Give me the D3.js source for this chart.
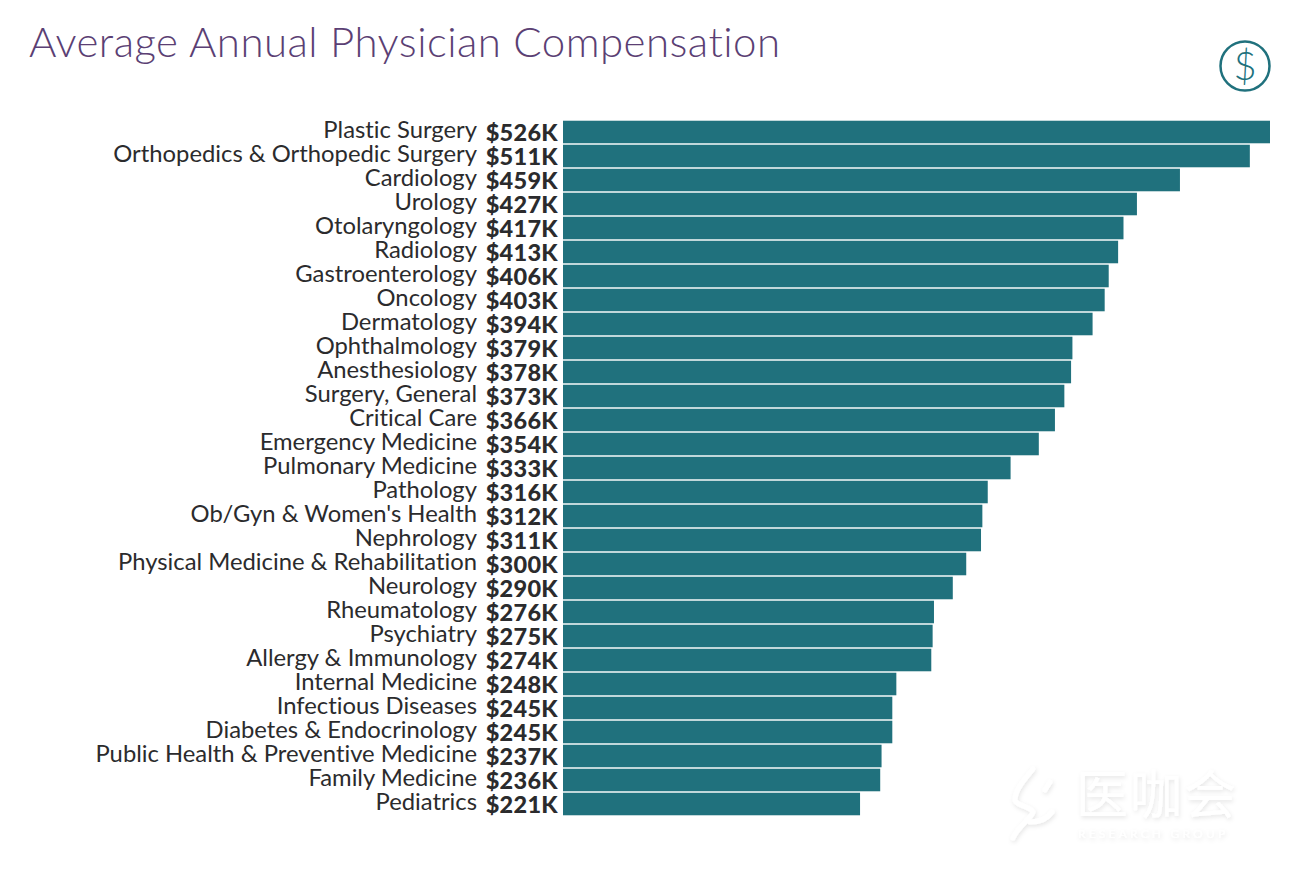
<!DOCTYPE html>
<html>
<head>
<meta charset="utf-8">
<script src="https://cdn.jsdelivr.net/npm/d3@7"></script>
<style>
  body { margin: 0; background: #fff; }
  text { font-family: Lato, "Open Sans", sans-serif; font-variant-ligatures: none; }
</style>
</head>
<body>
<div id="chart"></div>
<script>
const specialties = ["Plastic Surgery", "Orthopedics & Orthopedic Surgery", "Cardiology", "Urology", "Otolaryngology",
    "Radiology", "Gastroenterology", "Oncology", "Dermatology", "Ophthalmology", "Anesthesiology", "Surgery, General",
    "Critical Care", "Emergency Medicine", "Pulmonary Medicine", "Pathology", "Ob/Gyn & Women's Health", "Nephrology",
    "Physical Medicine & Rehabilitation", "Neurology", "Rheumatology", "Psychiatry", "Allergy & Immunology",
    "Internal Medicine", "Infectious Diseases", "Diabetes & Endocrinology", "Public Health & Preventive Medicine",
    "Family Medicine", "Pediatrics"];
const compensation = [526, 511, 459, 427, 417, 413, 406, 403, 394, 379, 378, 373, 366, 354, 333, 316, 312, 311, 300,
    290, 276, 275, 274, 248, 245, 245, 237, 236, 221];

const teal = "#20717d";
const ink = "#2b2b2d";

const svg = d3.select("#chart")
    .append("svg")
    .attr("width", 1290)
    .attr("height", 878);

svg.append("text")
    .attr("x", 29)
    .attr("y", 57)
    .attr("fill", "#5b3f74")
    .attr("font-size", 42)
    .attr("font-weight", 300)
    .attr("letter-spacing", 0.47)
    .text("Average Annual Physician Compensation");

const xScale = d3.scaleLinear().domain([0, 526]).range([563, 1270]);

const yScale = d3.scaleBand()
    .domain(specialties)
    .range([120, 816])
    .paddingInner(0.06)
    .paddingOuter(0.03);

svg.selectAll("rect.bar")
    .data(specialties)
    .join("rect")
    .attr("class", "bar")
    .attr("x", xScale(0))
    .attr("y", d => yScale(d))
    .attr("width", (d, i) => xScale(compensation[i]) - xScale(0))
    .attr("height", yScale.bandwidth())
    .attr("fill", teal);

// category labels sit a little higher than the bar centre
const yAxis = svg.append("g")
    .attr("transform", "translate(477,-2)")
    .call(d3.axisLeft(yScale).tickSize(0).tickPadding(0));
yAxis.select(".domain").remove();
yAxis.selectAll("text")
    .attr("fill", ink)
    .attr("font-size", 23.8)
    .style("font-family", "Lato, sans-serif");

svg.selectAll("text.value")
    .data(specialties)
    .join("text")
    .attr("class", "value")
    .attr("x", 558)
    .attr("y", d => yScale(d) + yScale.bandwidth() / 2 + 1)
    .attr("dy", "0.35em")
    .attr("text-anchor", "end")
    .attr("font-size", 23.5)
    .attr("font-weight", 900)
    .attr("letter-spacing", 0.3)
    .attr("fill", ink)
    .text((d, i) => `$${compensation[i]}K`);

// dollar icon
const icon = svg.append("g").attr("transform", "translate(1245,66)");
icon.append("circle")
    .attr("r", 24.5)
    .attr("fill", "none")
    .attr("stroke", teal)
    .attr("stroke-width", 2.5);
icon.append("text")
    .attr("text-anchor", "middle")
    .attr("dy", "0.36em")
    .attr("font-size", 40)
    .attr("font-weight", 300)
    .attr("fill", teal)
    .text("$");

// faint watermark
const defs = svg.append("defs");
defs.append("filter")
    .attr("id", "wm")
    .attr("x", "-20%").attr("y", "-20%").attr("width", "140%").attr("height", "140%")
    .append("feDropShadow")
    .attr("dx", 1).attr("dy", 2).attr("stdDeviation", 2)
    .attr("flood-color", "#000").attr("flood-opacity", 0.1);

const mark = svg.append("g").attr("filter", "url(#wm)");
mark.append("text")
    .attr("x", 1076)
    .attr("y", 814)
    .attr("font-size", 52)
    .attr("letter-spacing", 2)
    .style("font-family", "'Noto Sans CJK SC'")
    .attr("fill", "#fff")
    .text("医咖会");
mark.append("path")
    .attr("d", "M1033 769 C1024 780 1015 790 1015 800 C1016 806 1030 806 1033 812 C1032 818 1018 826 1013 838 M1030 822 C1040 822 1048 818 1052 812 M1050 782 L1045 790")
    .attr("fill", "none")
    .attr("stroke", "#fff")
    .attr("stroke-width", 5)
    .attr("stroke-linecap", "round");
mark.append("text")
    .attr("x", 1078)
    .attr("y", 838)
    .attr("font-size", 12)
    .attr("letter-spacing", 3.2)
    .attr("fill", "#fff")
    .text("RESEARCH  GROUP");
</script>
</body>
</html>
